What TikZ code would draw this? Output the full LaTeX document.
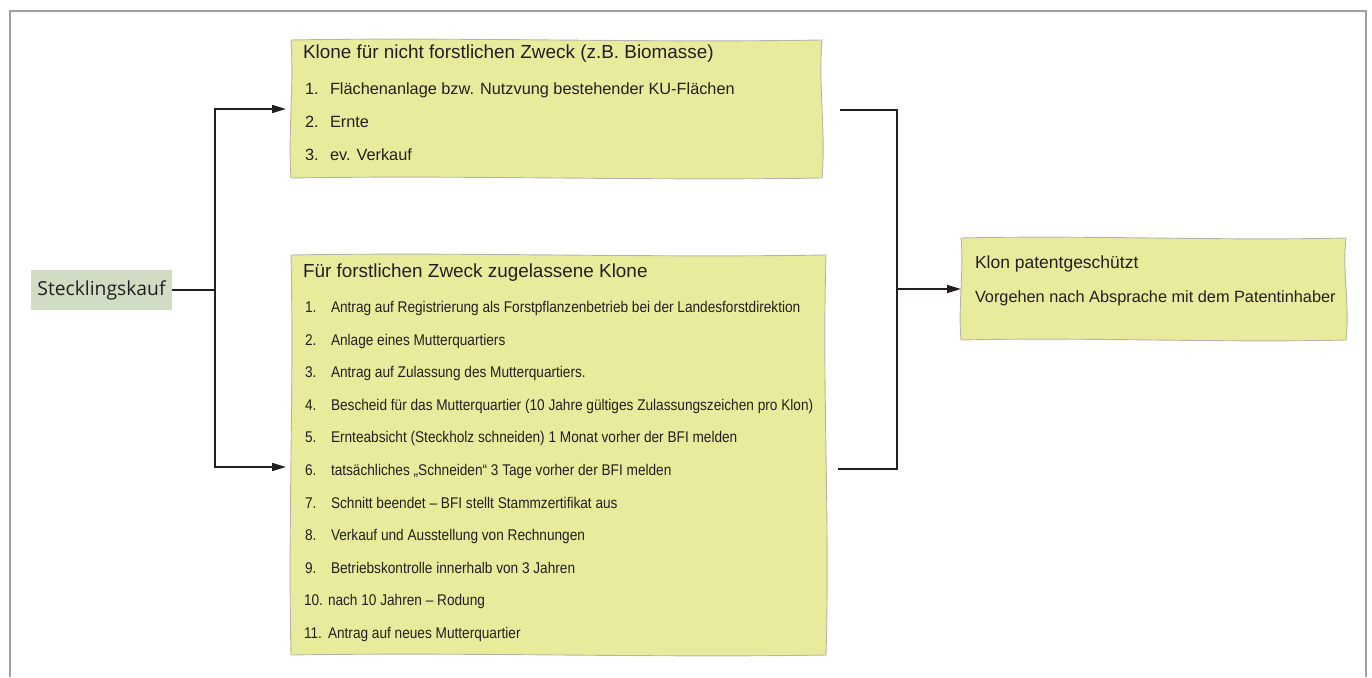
\documentclass[tikz,border=0pt]{standalone}
\usepackage{fontspec}
\setmainfont{Liberation Sans}
\newfontfamily\narrowfont[FakeStretch=0.88]{Liberation Sans}
\newfontfamily\steckfont{Open Sans}
\usetikzlibrary{arrows.meta,calc}
\definecolor{boxfill}{RGB}{232,235,155}
\definecolor{steckfill}{RGB}{208,221,196}
\definecolor{ink}{RGB}{35,31,32}
\definecolor{frame}{RGB}{160,160,160}
\definecolor{boxedge}{RGB}{180,180,170}
\tikzset{
  area/.style={inner sep=0pt,outer sep=0pt,anchor=north west},
  wavy/.style={fill=boxfill,draw=boxedge,line width=0.9pt},
  conn/.style={draw=ink,line width=1.5pt},
  arr/.style={conn,-{Triangle[length=14pt,width=8pt]}},
  txt/.style={inner sep=0pt,outer sep=0pt,anchor=base west,text=ink},
  ttl/.style={txt,font=\fontsize{18.9}{22}\selectfont},
  itA/.style={txt,font=\fontsize{16.3}{19}\selectfont},
  itB/.style={txt,font=\narrowfont\fontsize{15.5}{18}\selectfont},
}
\newcommand\wavybox[1]{%
  \path[wavy] (#1.north west)
   .. controls ($(#1.north west)!0.33!(#1.north east)+(0,-3)$) and ($(#1.north west)!0.66!(#1.north east)+(0,3)$) .. (#1.north east)
   .. controls ($(#1.north east)!0.33!(#1.south east)+(-4,0)$) and ($(#1.north east)!0.66!(#1.south east)+(4,0)$) .. (#1.south east)
   .. controls ($(#1.south east)!0.33!(#1.south west)+(0,3)$) and ($(#1.south east)!0.66!(#1.south west)+(0,-3)$) .. (#1.south west)
   .. controls ($(#1.south west)!0.33!(#1.north west)+(-3,0)$) and ($(#1.south west)!0.66!(#1.north west)+(3,0)$) .. cycle;}
\begin{document}
\begin{tikzpicture}[x=1pt,y=-1pt]
\useasboundingbox (0,0) rectangle (1372,677);
% frame
\draw[frame,line width=2pt] (10,677) -- (10,11) -- (1366,11) -- (1366,677);

% box areas
\node[area,minimum width=531pt,minimum height=138pt] (A) at (291,40) {};
\node[area,minimum width=535pt,minimum height=400pt] (B) at (291,255) {};
\node[area,minimum width=385pt,minimum height=102pt] (C) at (961,238) {};
\wavybox{A}
\wavybox{B}
\wavybox{C}

% Stecklingskauf
\node[fill=steckfill,minimum width=141pt,minimum height=40pt,inner sep=0pt,text=ink,
      font=\steckfont\fontsize{19.3}{22}\selectfont] (st) at (101.5,290) {Stecklingskauf};

% top box text
\node[ttl] (At) at (303,58.5) {Klone für nicht forstlichen Zweck (z.B. Biomasse)};
\node[itA] (An1) at (305,94.5) {1.};
\node[itA] (Ai1) at (330,94.5) {Flächenanlage bzw. Nutzvung bestehender KU-Flächen};
\node[itA] (An2) at (305,127.5) {2.};
\node[itA] (Ai2) at (330,127.5) {Ernte};
\node[itA] (An3) at (305,160.5) {3.};
\node[itA] (Ai3) at (330,160.5) {ev. Verkauf};

% bottom box text
\node[ttl] (Bt) at (303,277) {Für forstlichen Zweck zugelassene Klone};
\node[itB] (Bn1) at (305,312.5) {1.};
\node[itB] (Bi1) at (331,312.5) {Antrag auf Registrierung als Forstpflanzenbetrieb bei der Landesforstdirektion};
\node[itB] (Bn2) at (305,345.1) {2.};
\node[itB] (Bi2) at (331,345.1) {Anlage eines Mutterquartiers};
\node[itB] (Bn3) at (305,377.7) {3.};
\node[itB] (Bi3) at (331,377.7) {Antrag auf Zulassung des Mutterquartiers.};
\node[itB] (Bn4) at (305,410.3) {4.};
\node[itB] (Bi4) at (331,410.3) {Bescheid für das Mutterquartier (10 Jahre gültiges Zulassungszeichen pro Klon)};
\node[itB] (Bn5) at (305,442.9) {5.};
\node[itB] (Bi5) at (331,442.9) {Ernteabsicht (Steckholz schneiden) 1 Monat vorher der BFI melden};
\node[itB] (Bn6) at (305,475.5) {6.};
\node[itB] (Bi6) at (331,475.5) {tatsächliches „Schneiden“ 3 Tage vorher der BFI melden};
\node[itB] (Bn7) at (305,508.1) {7.};
\node[itB] (Bi7) at (331,508.1) {Schnitt beendet – BFI stellt Stammzertifikat aus};
\node[itB] (Bn8) at (305,540.7) {8.};
\node[itB] (Bi8) at (331,540.7) {Verkauf und Ausstellung von Rechnungen};
\node[itB] (Bn9) at (305,573.3) {9.};
\node[itB] (Bi9) at (331,573.3) {Betriebskontrolle innerhalb von 3 Jahren};
\node[itB] (Bn10) at (304,605.9) {10.};
\node[itB] (Bi10) at (328,605.9) {nach 10 Jahren – Rodung};
\node[itB] (Bn11) at (304,638.5) {11.};
\node[itB] (Bi11) at (328,638.5) {Antrag auf neues Mutterquartier};

% right box text
\node[txt,font=\fontsize{17.5}{21}\selectfont] (Ct) at (975,268.5) {Klon patentgeschützt};
\node[txt,font=\fontsize{16.3}{19}\selectfont] (Ci) at (975,302.5) {Vorgehen nach Absprache mit dem Patentinhaber};

% connectors
\coordinate (j1) at (215,290);
\coordinate (bin) at (286,467);
\draw[conn] (st.east) -- (j1);
\draw[arr,shorten >=5pt] (j1) |- (A.west);
\draw[arr] (j1) |- (bin);
\coordinate (r1) at (840,110);
\coordinate (r2) at (838,469);
\coordinate (j2) at (897,289);
\draw[conn] (r1) -| (j2);
\draw[conn] (r2) -| (j2);
\draw[arr] (j2) -- (C.west);
\end{tikzpicture}
\end{document}
